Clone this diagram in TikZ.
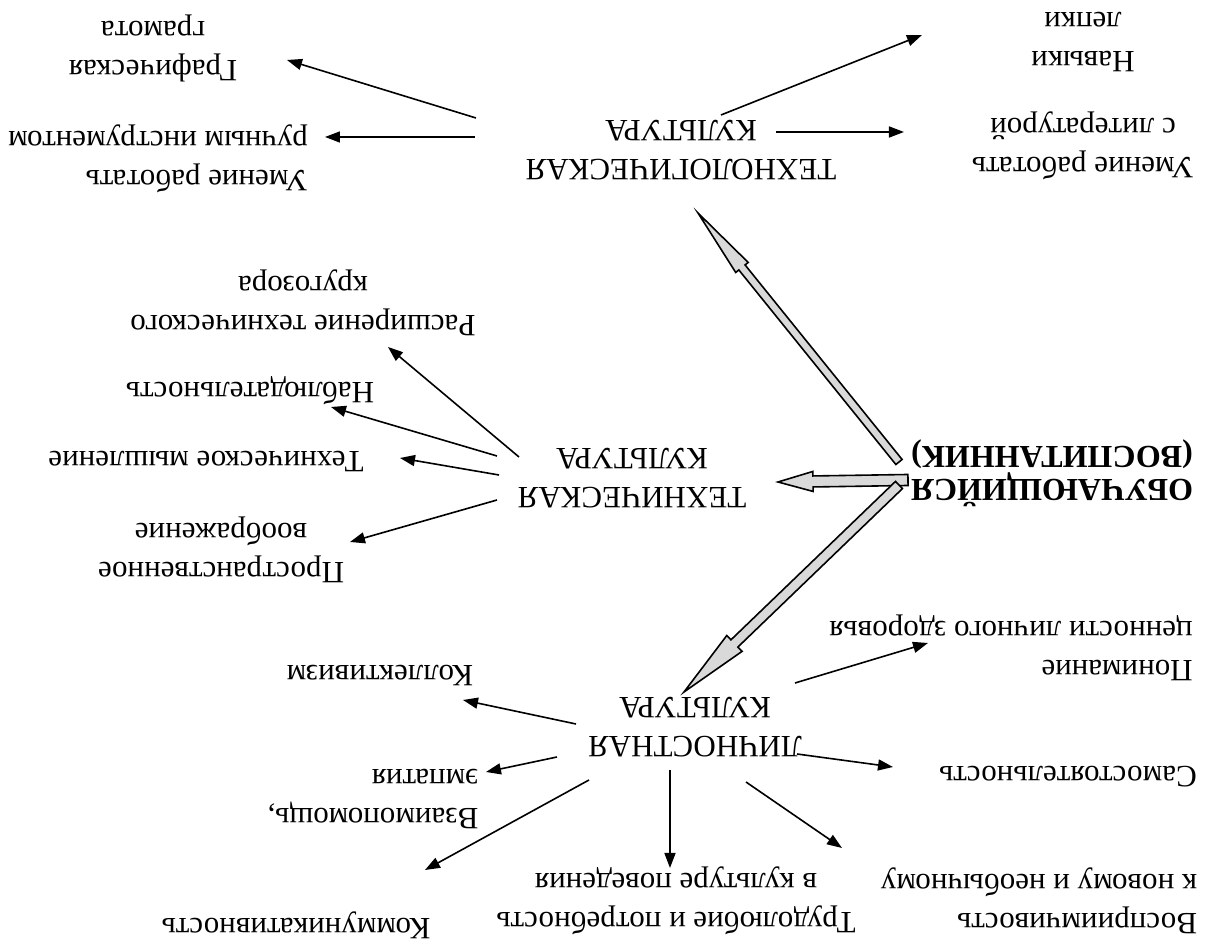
\documentclass[tikz,border=0pt]{standalone}
\usepackage{fontspec}
\setmainfont{Liberation Serif}
\usetikzlibrary{arrows.meta, calc}
\tikzstyle{culture} = [font=\fontsize{31}{39}\selectfont, align=center, inner sep=2pt]
\tikzstyle{central} = [font=\fontsize{32}{33}\selectfont\bfseries, align=center, inner sep=2pt]
\tikzstyle{leaf} = [font=\fontsize{31}{39}\selectfont, align=center, inner sep=2pt]
\tikzstyle{leafl} = [leaf, align=left]
\tikzstyle{arrow} = [line width=1.6pt, -{Triangle[length=15pt, width=11pt]}]
\tikzstyle{bigarrow} = [draw=black, line width=1.6pt, fill=gray!30, line join=miter]

% hollow arrow: tail, tip, shaft half width, head half width, head length
\newcommand{\hollowarrow}[5]{%
  \coordinate (hb) at ($(#2)!#5!(#1)$);
  \draw[bigarrow] ($(#1)!#3!90:(#2)$) -- ($(hb)!#3!-90:(#1)$) -- ($(hb)!#4!-90:(#1)$) -- (#2)
    -- ($(hb)!#4!90:(#1)$) -- ($(hb)!#3!90:(#1)$) -- ($(#1)!#3!-90:(#2)$) -- cycle;
}

\begin{document}
\begin{tikzpicture}[rotate=180, transform shape, x=1pt, y=1pt]
\useasboundingbox (0,0) rectangle (1212,-944);

% Central node
\node (student) [central] at (160,-471) {ОБУЧАЮЩИЙСЯ\\(ВОСПИТАННИК)};

% Cultures
\node (techno) [culture] at (531,-794) {ТЕХНОЛОГИЧЕСКАЯ\\КУЛЬТУРА};
\node (tech) [culture] at (580,-466) {ТЕХНИЧЕСКАЯ\\КУЛЬТУРА};
\node (person) [culture] at (517,-217) {ЛИЧНОСТНАЯ\\КУЛЬТУРА};

% Technological branch
\node (graph) [leaf] at (1059,-896) {Графическая\\грамота};
\node (hand) [leafl] at (1054,-785) {Умение работать\\ручным инструментом};
\node (model) [leaf] at (129,-902) {Навыки\\лепки};
\node (litera) [leaf] at (129,-798) {Умение работать\\с литературой};

% Technical branch
\node (outlook) [leaf] at (909,-641) {Расширение технического\\кругозора};
\node (observ) [leaf] at (962,-553) {Наблюдательность};
\node (thinking) [leaf] at (1006,-482) {Техническое мышление};
\node (spatial) [leaf] at (991,-394) {Пространственное\\воображение};

% Personal branch
\node (collect) [leaf] at (832,-268) {Коллективизм};
\node (mutual) [leafl] at (839,-145) {Взаимопомощь,\\эмпатия};
\node (commun) [leaf] at (916,-19) {Коммуникативность};
\node (labor) [leaf] at (536,-43) {Трудолюбие и потребность\\в культуре поведения};
\node (percept) [leafl] at (173,-43) {Восприимчивость\\к новому и необычному};
\node (indep) [leaf] at (144,-167) {Самостоятельность};
\node (health) [leafl] at (201,-296) {Понимание\\ценности личного здоровья};

% Big arrows
\coordinate (s1) at ($(student)+(153,-11)$);
\coordinate (t1) at ($(techno)+(-17,63)$);
\coordinate (s2) at ($(student)+(144,7)$);
\coordinate (t2) at ($(tech)+(-146,4)$);
\coordinate (s3) at ($(student)+(153,12)$);
\coordinate (t3) at ($(person)+(11,-35)$);
\hollowarrow{s1}{t1}{4pt}{8pt}{70pt}
\hollowarrow{s2}{t2}{5.5pt}{10pt}{35pt}
\hollowarrow{s3}{t3}{5pt}{11pt}{70pt}

% Arrows technological
\draw [arrow] ($(techno)+(205,-32)$) -- ($(graph)+(-134,12)$);
\draw [arrow] ($(techno)+(206,-13)$) -- ($(hand)+(-167,-22)$);
\draw [arrow] ($(techno)+(-40,-35)$) -- ($(model)+(161,-7)$);
\draw [arrow] ($(techno)+(-95,-18)$) -- ($(litera)+(179,-14)$);

% Arrows technical
\draw [arrow] ($(tech)+(113,-21)$) -- ($(outlook)+(-85,44)$);
\draw [arrow] ($(tech)+(135,-22)$) -- ($(observ)+(-81,16)$);
\draw [arrow] ($(tech)+(133,-3)$) -- ($(thinking)+(-194,-4)$);
\draw [arrow] ($(tech)+(135,22)$) -- ($(spatial)+(-129,-8)$);

% Arrows personal
\draw [arrow] ($(person)+(119,-3)$) -- ($(collect)+(-83,24)$);
\draw [arrow] ($(person)+(138,30)$) -- ($(mutual)+(-113,-27)$);
\draw [arrow] ($(person)+(106,53)$) -- ($(commun)+(-129,-55)$);
\draw [arrow] ($(person)+(25,43)$) -- ($(labor)+(6,-33)$);
\draw [arrow] ($(person)+(-51,55)$) -- ($(percept)+(197,-53)$);
\draw [arrow] ($(person)+(-102,27)$) -- ($(indep)+(175,-10)$);
\draw [arrow] ($(person)+(-100,-44)$) -- ($(health)+(83,-5)$);

\end{tikzpicture}
\end{document}
